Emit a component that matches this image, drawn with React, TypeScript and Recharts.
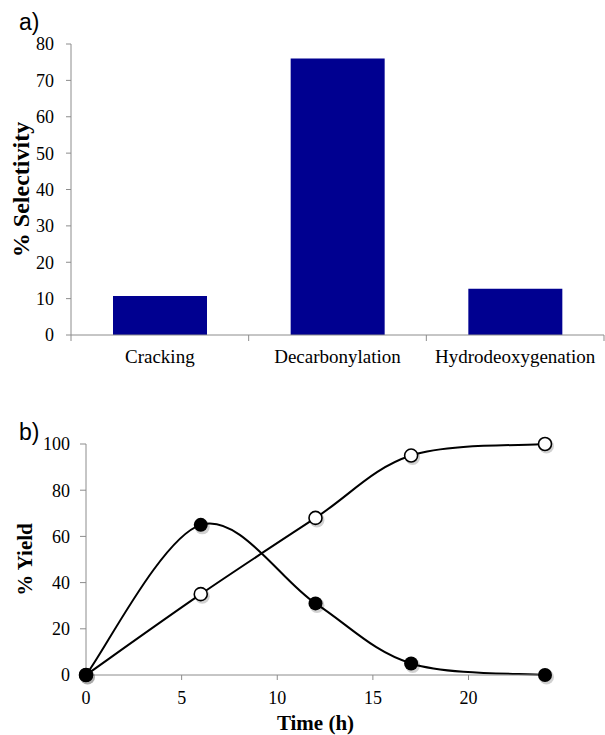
import React from 'react';
import { BarChart, Bar, XAxis, YAxis, LineChart, Line, Label } from 'recharts';

// panel a) selectivity per reaction pathway
const categories = ['Cracking', 'Decarbonylation', 'Hydrodeoxygenation'];
const selectivity = [10.7, 76, 12.7];
const selectivityTicks = [0, 10, 20, 30, 40, 50, 60, 70, 80];

// panel b) yield vs time
const timeH = [0, 6, 12, 17, 24];
const filledYield = [0, 65, 31, 5, 0];
const openYield = [0, 35, 68, 95, 100];
const timeTicks = [0, 5, 10, 15, 20];
const yieldTicks = [0, 20, 40, 60, 80, 100];

const SERIF = '"Liberation Serif", "Times New Roman", serif';
const SANS = '"Liberation Sans", Arial, sans-serif';
const AXIS_GREY = '#8c8c8c';

const A_W = 605;
const A_H = 380;
const A_LEFT = 71;
const A_RIGHT = 1;
const A_BAND = (A_W - A_LEFT - A_RIGHT) / categories.length;

// Excel-like smoothed line (uniform Catmull-Rom through every point)
function smoothCurve(context: any) {
  let pts: [number, number][] = [];
  return {
    areaStart() {},
    areaEnd() {},
    lineStart() {
      pts = [];
    },
    point(x: number, y: number) {
      pts.push([+x, +y]);
    },
    lineEnd() {
      if (!pts.length) return;
      context.moveTo(pts[0][0], pts[0][1]);
      for (let i = 0; i < pts.length - 1; i++) {
        const p0 = pts[i - 1] || pts[i];
        const p1 = pts[i];
        const p2 = pts[i + 1];
        const p3 = pts[i + 2] || p2;
        context.bezierCurveTo(
          p1[0] + (p2[0] - p0[0]) / 6,
          p1[1] + (p2[1] - p0[1]) / 6,
          p2[0] - (p3[0] - p1[0]) / 6,
          p2[1] - (p3[1] - p1[1]) / 6,
          p2[0],
          p2[1],
        );
      }
    },
  };
}

function CategoryTick(props: any) {
  const { x, y, payload, index, visibleTicksCount } = props;
  const last = index === visibleTicksCount - 1;
  return (
    <g>
      <line x1={x - A_BAND / 2} x2={x - A_BAND / 2} y1={y} y2={y + 6} stroke={AXIS_GREY} />
      {last && <line x1={x + A_BAND / 2} x2={x + A_BAND / 2} y1={y} y2={y + 6} stroke={AXIS_GREY} />}
      <text x={x} y={y + 28} textAnchor="middle" fontFamily={SERIF} fontSize={19} fill="#000">
        {payload.value}
      </text>
    </g>
  );
}

function FilledDot(props: any) {
  const { cx, cy } = props;
  if (cx == null || cy == null) return null;
  return (
    <g>
      <circle cx={cx + 1.5} cy={cy + 2} r={7.5} fill="rgba(0,0,0,0.18)" />
      <circle cx={cx} cy={cy} r={7} fill="#000" />
    </g>
  );
}

function OpenDot(props: any) {
  const { cx, cy } = props;
  if (cx == null || cy == null) return null;
  return (
    <g>
      <circle cx={cx + 1.5} cy={cy + 2} r={7.5} fill="rgba(0,0,0,0.18)" />
      <circle cx={cx} cy={cy} r={6.5} fill="#fff" stroke="#000" strokeWidth={1.6} />
    </g>
  );
}

export default function App() {
  const barData = categories.map((name, i) => ({ name, value: selectivity[i] }));
  const lineData = timeH.map((t, i) => ({ t, filled: filledYield[i], open: openYield[i] }));

  const tickStyle = { fill: '#000', fontSize: 18, fontFamily: SERIF };
  const panelLabel: React.CSSProperties = {
    position: 'absolute',
    left: 19,
    fontFamily: SANS,
    fontSize: 23,
    lineHeight: '23px',
    color: '#000',
  };

  return (
    <div style={{ position: 'absolute', left: 0, top: 0, width: 605, height: 735, background: '#fff' }}>
      <div style={{ ...panelLabel, top: 11 }}>a)</div>
      <div style={{ ...panelLabel, top: 421 }}>b)</div>

      <div style={{ position: 'absolute', left: 0, top: 0 }}>
        <BarChart width={A_W} height={A_H} data={barData} margin={{ top: 44, right: A_RIGHT, bottom: 0, left: 0 }}>
          <XAxis
            dataKey="name"
            height={45}
            interval={0}
            tickSize={0}
            tickMargin={0}
            tickLine={false}
            axisLine={{ stroke: AXIS_GREY }}
            tick={<CategoryTick />}
          />
          <YAxis
            width={A_LEFT}
            domain={[0, 80]}
            ticks={selectivityTicks}
            interval={0}
            tickSize={5}
            tickMargin={12}
            tickLine={{ stroke: AXIS_GREY }}
            axisLine={{ stroke: AXIS_GREY }}
            tick={tickStyle}
          >
            <Label
              value="% Selectivity"
              angle={-90}
              position="insideLeft"
              offset={20}
              style={{ textAnchor: 'middle', fontFamily: SERIF, fontSize: 24, fontWeight: 'bold', fill: '#000' }}
            />
          </YAxis>
          <Bar dataKey="value" fill="#000090" barSize={94} isAnimationActive={false} />
        </BarChart>
      </div>

      <div style={{ position: 'absolute', left: 0, top: 380 }}>
        <LineChart width={605} height={355} data={lineData} margin={{ top: 64, right: 60, bottom: 0, left: 0 }}>
          <XAxis
            dataKey="t"
            type="number"
            domain={[0, 24]}
            ticks={timeTicks}
            interval={0}
            height={60}
            tickSize={5}
            tickMargin={11}
            tickLine={{ stroke: AXIS_GREY }}
            axisLine={{ stroke: AXIS_GREY }}
            tick={tickStyle}
          >
            <Label
              value="Time (h)"
              position="insideBottom"
              offset={5}
              style={{ fontFamily: SERIF, fontSize: 21, fontWeight: 'bold', fill: '#000' }}
            />
          </XAxis>
          <YAxis
            width={86}
            domain={[0, 100]}
            ticks={yieldTicks}
            interval={0}
            tickSize={6}
            tickMargin={10}
            tickLine={{ stroke: AXIS_GREY }}
            axisLine={{ stroke: AXIS_GREY }}
            tick={tickStyle}
          >
            <Label
              value="% Yield"
              angle={-90}
              position="insideLeft"
              offset={25}
              style={{ textAnchor: 'middle', fontFamily: SERIF, fontSize: 21, fontWeight: 'bold', fill: '#000' }}
            />
          </YAxis>
          <Line
            dataKey="open"
            type={smoothCurve as any}
            stroke="#000"
            strokeWidth={2}
            dot={<OpenDot />}
            activeDot={false}
            isAnimationActive={false}
          />
          <Line
            dataKey="filled"
            type={smoothCurve as any}
            stroke="#000"
            strokeWidth={2}
            dot={<FilledDot />}
            activeDot={false}
            isAnimationActive={false}
          />
        </LineChart>
      </div>
    </div>
  );
}
